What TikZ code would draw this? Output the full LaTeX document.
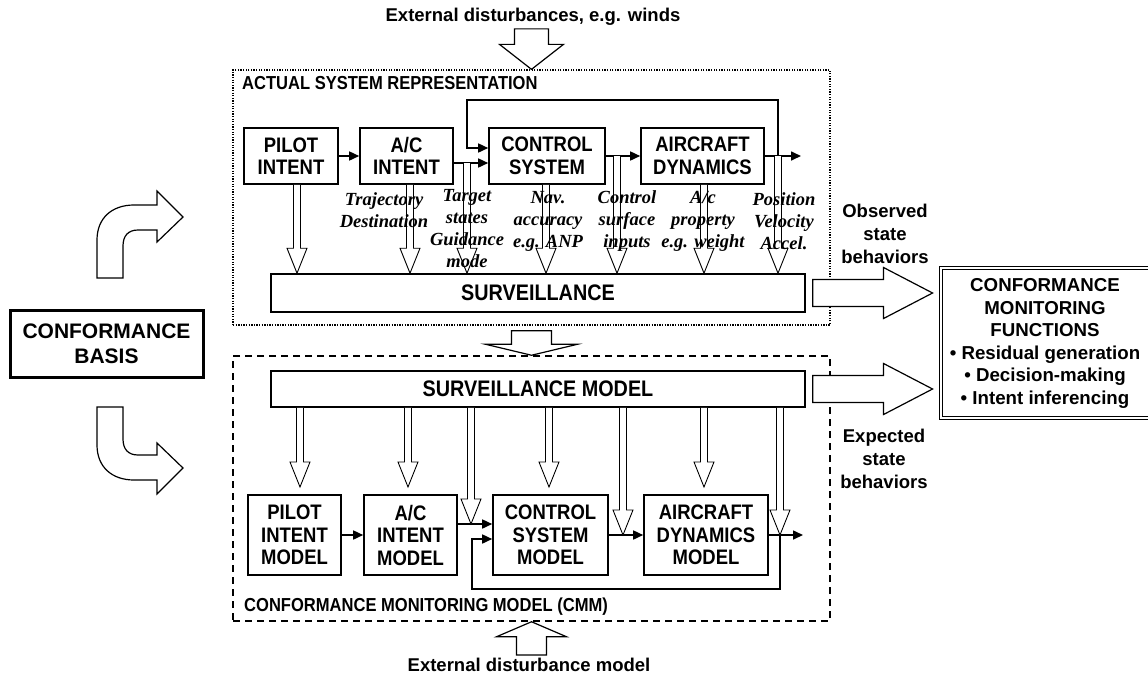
\documentclass[tikz,border=0pt]{standalone}
\usepackage{fontspec}
\setsansfont{Liberation Sans}
\newfontfamily\noteserif{Liberation Serif}
\newfontfamily\boxfont[FakeStretch=0.88]{Liberation Sans}
\usetikzlibrary{arrows.meta,calc}

\tikzset{
  blk/.style={draw, line width=1.6pt, fill=white, align=center, inner sep=0pt,
    font=\boxfont\bfseries\fontsize{21}{22.5}\selectfont},
  flow/.style={line width=1.6pt, -{Triangle[length=10pt,width=9pt]}},
  hollow/.style={draw, fill=white, line width=0.9pt},
  fat/.style={draw, fill=white, line width=1.2pt},
  note/.style={inner sep=0pt, align=center,
    font=\noteserif\bfseries\itshape\fontsize{18.5}{22}\selectfont},
  tag/.style={inner sep=0pt, align=center,
    font=\sffamily\bfseries\fontsize{18.5}{23}\selectfont},
  title/.style={inner sep=0pt, anchor=west,
    font=\boxfont\bfseries\fontsize{18.8}{20}\selectfont},
  frame/.style={draw, inner sep=0pt, minimum width=597pt},
}

% double-line signal arrow, from #1 down to the tip #2
\newcommand{\thinarrow}[2]{%
  \draw[hollow] let \p1=(#1), \p2=(#2) in
    (\x1-3.5pt,\y1) -- (\x1-3.5pt,\y2+25pt) -- (\x1-10pt,\y2+25pt) -- (\x1,\y2)
    -- (\x1+10pt,\y2+25pt) -- (\x1+3.5pt,\y2+25pt) -- (\x1+3.5pt,\y1);}

\begin{document}
\begin{tikzpicture}[x=1pt,y=-1pt]
\useasboundingbox (0,0) rectangle (1148,678);

% frames
\node[frame, dash pattern=on 1.3pt off 1.3pt, line width=1.3pt, minimum height=255pt] (asr) at (531.5,197.5) {};
\node[frame, dash pattern=on 7pt off 5pt, line width=1.5pt, minimum height=265pt] (cmm) at (531.5,488.5) {};
\node[title] (asrtitle) at (242,83) {ACTUAL SYSTEM REPRESENTATION};
\node[title] (cmmtitle) at (244,607) {CONFORMANCE MONITORING MODEL (CMM)};

% actual system
\node[blk, minimum width=94pt, minimum height=56pt] (pilot) at (291,156) {PILOT\\INTENT};
\node[blk, minimum width=93pt, minimum height=56pt] (acint) at (406.5,156) {A/C\\INTENT};
\node[blk, minimum width=116pt, minimum height=56pt] (ctl) at (547,156) {CONTROL\\SYSTEM};
\node[blk, minimum width=123pt, minimum height=56pt] (dyn) at (702.5,156) {AIRCRAFT\\DYNAMICS};
\node[blk, minimum width=534pt, minimum height=38pt, font=\boxfont\bfseries\fontsize{22.5}{24}\selectfont] (surv) at (538,293) {SURVEILLANCE};

\coordinate (ya) at (0,163);
\coordinate (yb) at (0,148);
\coordinate (fbL) at (467,100);
\coordinate (fbR) at (778,156);
\coordinate (out) at (801,156);
\draw[flow] (pilot) -- (acint);
\draw[flow] (acint.east |- ya) -- (ctl.west |- ya);
\draw[flow] (fbR) -- (fbR |- fbL) -- (fbL) -- (fbL |- yb) -- (ctl.west |- yb);
\draw[flow] (ctl) -- (dyn);
\draw[flow] (dyn) -- (out);

\coordinate (ta) at (297,0);
\coordinate (tb) at (410,0);
\coordinate (tc) at (467,0);
\coordinate (td) at (546,0);
\coordinate (te) at (617,0);
\coordinate (tf) at (704,0);
\coordinate (tg) at (778,0);
\thinarrow{pilot.south -| ta}{surv.north -| ta}
\thinarrow{acint.south -| tb}{surv.north -| tb}
\thinarrow{ya -| tc}{surv.north -| tc}
\thinarrow{ctl.south -| td}{surv.north -| td}
\thinarrow{fbR -| te}{surv.north -| te}
\thinarrow{dyn.south -| tf}{surv.north -| tf}
\thinarrow{fbR -| tg}{surv.north -| tg}

\node[note] (traj) at (384,210) {Trajectory\\Destination};
\node[note] (tgt) at (467,229) {Target\\states\\Guidance\\mode};
\node[note] (nav) at (548,221) {Nav.\\accuracy\\e.g. ANP};
\node[note] (csurf) at (627,221) {Control\\surface\\inputs};
\node[note] (acprop) at (703,221) {A/c\\property\\e.g. weight};
\node[note] (posvel) at (784,221) {Position\\Velocity\\Accel.};

% model
\node[blk, minimum width=534pt, minimum height=36pt, font=\boxfont\bfseries\fontsize{22.5}{24}\selectfont] (survm) at (538,389) {SURVEILLANCE MODEL};
\node[blk, minimum width=93pt, minimum height=80pt] (pilotm) at (294.5,535) {PILOT\\INTENT\\MODEL};
\node[blk, minimum width=93pt, minimum height=80pt] (acintm) at (410.5,535) {A/C\\INTENT\\MODEL};
\node[blk, minimum width=115pt, minimum height=80pt] (ctlm) at (550.5,535) {CONTROL\\SYSTEM\\MODEL};
\node[blk, minimum width=124pt, minimum height=80pt] (dynm) at (706,535) {AIRCRAFT\\DYNAMICS\\MODEL};

\coordinate (yc) at (0,524);
\coordinate (yd) at (0,539);
\coordinate (yr) at (0,487);
\coordinate (fbl) at (472,589);
\coordinate (fbr) at (780,535);
\coordinate (outm) at (803,535);
\draw[flow] (pilotm) -- (acintm);
\draw[flow] (acintm.east |- yc) -- (ctlm.west |- yc);
\draw[flow] (fbr) -- (fbr |- fbl) -- (fbl) -- (fbl |- yd) -- (ctlm.west |- yd);
\draw[flow] (ctlm) -- (dynm);
\draw[flow] (dynm) -- (outm);

\coordinate (ua) at (300,0);
\coordinate (ub) at (408,0);
\coordinate (uc) at (471,0);
\coordinate (ud) at (549,0);
\coordinate (ue) at (623,0);
\coordinate (uf) at (704,0);
\coordinate (ug) at (780,0);
\thinarrow{survm.south -| ua}{yr -| ua}
\thinarrow{survm.south -| ub}{yr -| ub}
\thinarrow{survm.south -| uc}{yc -| uc}
\thinarrow{survm.south -| ud}{yr -| ud}
\thinarrow{survm.south -| ue}{fbr -| ue}
\thinarrow{survm.south -| uf}{yr -| uf}
\thinarrow{survm.south -| ug}{fbr -| ug}

% disturbances
\node[tag] (dist) at (533,17) {External disturbances, e.g. winds};
\node[tag] (distm) at (529,665) {External disturbance model};
\draw[fat] let \p1=(dist.south), \p2=(asr.north) in
  (\x2-17pt,\y1-3pt) -- (\x2-17pt,\y2+25pt) -- (\x2-32pt,\y2+25pt) -- (\x2,\y2)
  -- (\x2+32pt,\y2+25pt) -- (\x2+17pt,\y2+25pt) -- (\x2+17pt,\y1-3pt) -- cycle;
\draw[fat] let \p1=(distm.north), \p2=(cmm.south) in
  (\x2-15pt,\y1+3pt) -- (\x2-15pt,\y2-15pt) -- (\x2-35pt,\y2-15pt) -- (\x2,\y2)
  -- (\x2+35pt,\y2-15pt) -- (\x2+15pt,\y2-15pt) -- (\x2+15pt,\y1+3pt) -- cycle;
\draw[fat] let \p1=(asr.south), \p2=(cmm.north) in
  (\x1-20pt,\y1-5pt) -- (\x1-20pt,\y2+11pt) -- (\x1-46pt,\y2+11pt) -- (\x1,\y2)
  -- (\x1+46pt,\y2+11pt) -- (\x1+20pt,\y2+11pt) -- (\x1+20pt,\y1-5pt) -- cycle;

% conformance basis
\node[draw, line width=3pt, minimum width=193pt, minimum height=67pt, align=center, inner sep=0pt,
  font=\sffamily\bfseries\fontsize{21}{25}\selectfont] (basis) at (106.5,343.5) {CONFORMANCE\\BASIS};
\draw[fat] (97,278) -- (97,240) .. controls (97,218) and (112,205) .. (134,205) -- (157,205)
  -- (157,191) -- (183,217) -- (157,242) -- (157,230) -- (138,230)
  .. controls (128,230) and (123,236) .. (123,246) -- (123,278) -- cycle;
\draw[fat] (97,407) -- (97,445) .. controls (97,467) and (112,480) .. (134,480) -- (157,480)
  -- (157,494) -- (183,468) -- (157,443) -- (157,455) -- (138,455)
  .. controls (128,455) and (123,449) .. (123,439) -- (123,407) -- cycle;

% monitoring functions
\node[draw, double, double distance=2.2pt, line width=0.9pt, minimum width=222pt, minimum height=150pt, inner sep=0pt] (cmf) at (1052,343) {};
\node[tag, font=\sffamily\bfseries\fontsize{18.7}{22.6}\selectfont] (cmftext) at (1045,343.5)
  {CONFORMANCE\\MONITORING\\FUNCTIONS\\\textbullet{} Residual generation\\\textbullet{} Decision-making\\\textbullet{} Intent inferencing};
\draw[fat] let \p1=(surv.east), \p2=(cmf.west) in
  (\x1+7pt,\y1+13.5pt) -- (\x2-57pt,\y1+13.5pt) -- (\x2-57pt,\y1+25.5pt) -- (\x2-8pt,\y1)
  -- (\x2-57pt,\y1-25.5pt) -- (\x2-57pt,\y1-13.5pt) -- (\x1+7pt,\y1-13.5pt) -- cycle;
\draw[fat] let \p1=(survm.east), \p2=(cmf.west) in
  (\x1+7pt,\y1+13.5pt) -- (\x2-57pt,\y1+13.5pt) -- (\x2-57pt,\y1+25.5pt) -- (\x2-8pt,\y1)
  -- (\x2-57pt,\y1-25.5pt) -- (\x2-57pt,\y1-13.5pt) -- (\x1+7pt,\y1-13.5pt) -- cycle;
\node[tag] (obs) at (885,234) {Observed\\state\\behaviors};
\node[tag] (expd) at (884,459) {Expected\\state\\behaviors};
\end{tikzpicture}
\end{document}
